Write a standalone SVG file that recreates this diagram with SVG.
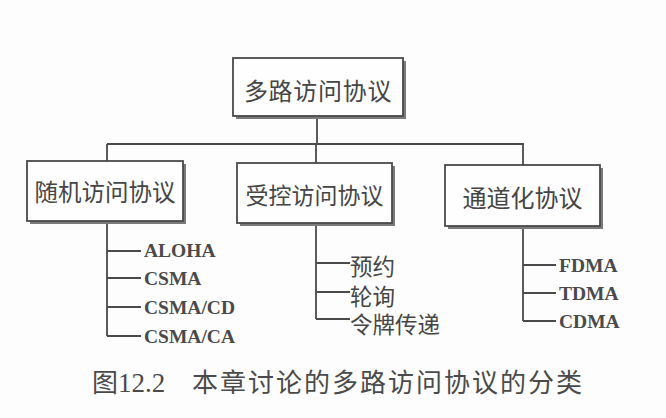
<svg xmlns="http://www.w3.org/2000/svg" width="666" height="418" viewBox="0 0 666 418">
<style>
.bg{fill:#fdfdfd}
.box{fill:#fefefe;stroke:#4a4a4a;stroke-width:1.8}
.sh{fill:#7a7a7a}
.ln{fill:none;stroke:#4a4a4a;stroke-width:1.8}
.cj{font-family:"Noto Sans CJK SC","Noto Sans",sans-serif;fill:#454545;dominant-baseline:central}
.lt{font-family:"Liberation Serif",serif;font-weight:bold;font-size:19.5px;fill:#4a4a4a}
.cap{font-family:"Noto Sans CJK SC","Noto Sans",sans-serif;font-size:26px;fill:#4a4a4a}
</style>
<rect class="bg" x="0" y="0" width="666" height="418"/>
<g id="connectors">
  <path class="ln" d="M317 118V144M107 144H524M107 144V161M316 144V163M523 144V165"/>
  <path class="ln" d="M107 223V336M107 251H141M107 278H141M107 307H141M107 336H141"/>
  <path class="ln" d="M316 223V319M316 263H350M316 292H350M316 319H350"/>
  <path class="ln" d="M523 229V321M523 265H556M523 293H556M523 321H556"/>
</g>
<g id="root">
  <rect class="sh" x="236" y="61" width="170" height="58"/>
  <rect class="box" x="233" y="58" width="170" height="58"/>
  <text class="cj" x="318" y="89" font-size="24" letter-spacing="0.7" text-anchor="middle">多路访问协议</text>
</g>
<g id="random">
  <rect class="sh" x="30" y="164" width="156" height="60"/>
  <rect class="box" x="27" y="161" width="156" height="60"/>
  <text class="cj" x="105" y="191" font-size="23.5" text-anchor="middle">随机访问协议</text>
</g>
<g id="controlled">
  <rect class="sh" x="240" y="166" width="155" height="60"/>
  <rect class="box" x="237" y="163" width="155" height="60"/>
  <text class="cj" x="314.5" y="194" font-size="23" text-anchor="middle">受控访问协议</text>
</g>
<g id="channel">
  <rect class="sh" x="448" y="168" width="155" height="61"/>
  <rect class="box" x="445" y="165" width="155" height="61"/>
  <text class="cj" x="522.5" y="196" font-size="24" text-anchor="middle">通道化协议</text>
</g>
<g id="random-items">
  <text class="lt" x="144" y="257">ALOHA</text>
  <text class="lt" x="144" y="285">CSMA</text>
  <text class="lt" x="144" y="314">CSMA/CD</text>
  <text class="lt" x="144" y="343">CSMA/CA</text>
</g>
<g id="controlled-items">
  <text class="cj" x="350" y="265" font-size="22.5">预约</text>
  <text class="cj" x="350" y="295" font-size="22.5">轮询</text>
  <text class="cj" x="350" y="323" font-size="22.5">令牌传递</text>
</g>
<g id="channel-items">
  <text class="lt" x="559" y="272">FDMA</text>
  <text class="lt" x="559" y="300">TDMA</text>
  <text class="lt" x="559" y="328">CDMA</text>
</g>
<g id="caption">
  <text class="cap" x="92" y="392">图<tspan font-family="Liberation Serif" font-size="27">12.2</tspan><tspan x="192" letter-spacing="2">本章讨论的多路访问协议的分类</tspan></text>
</g>
</svg>
